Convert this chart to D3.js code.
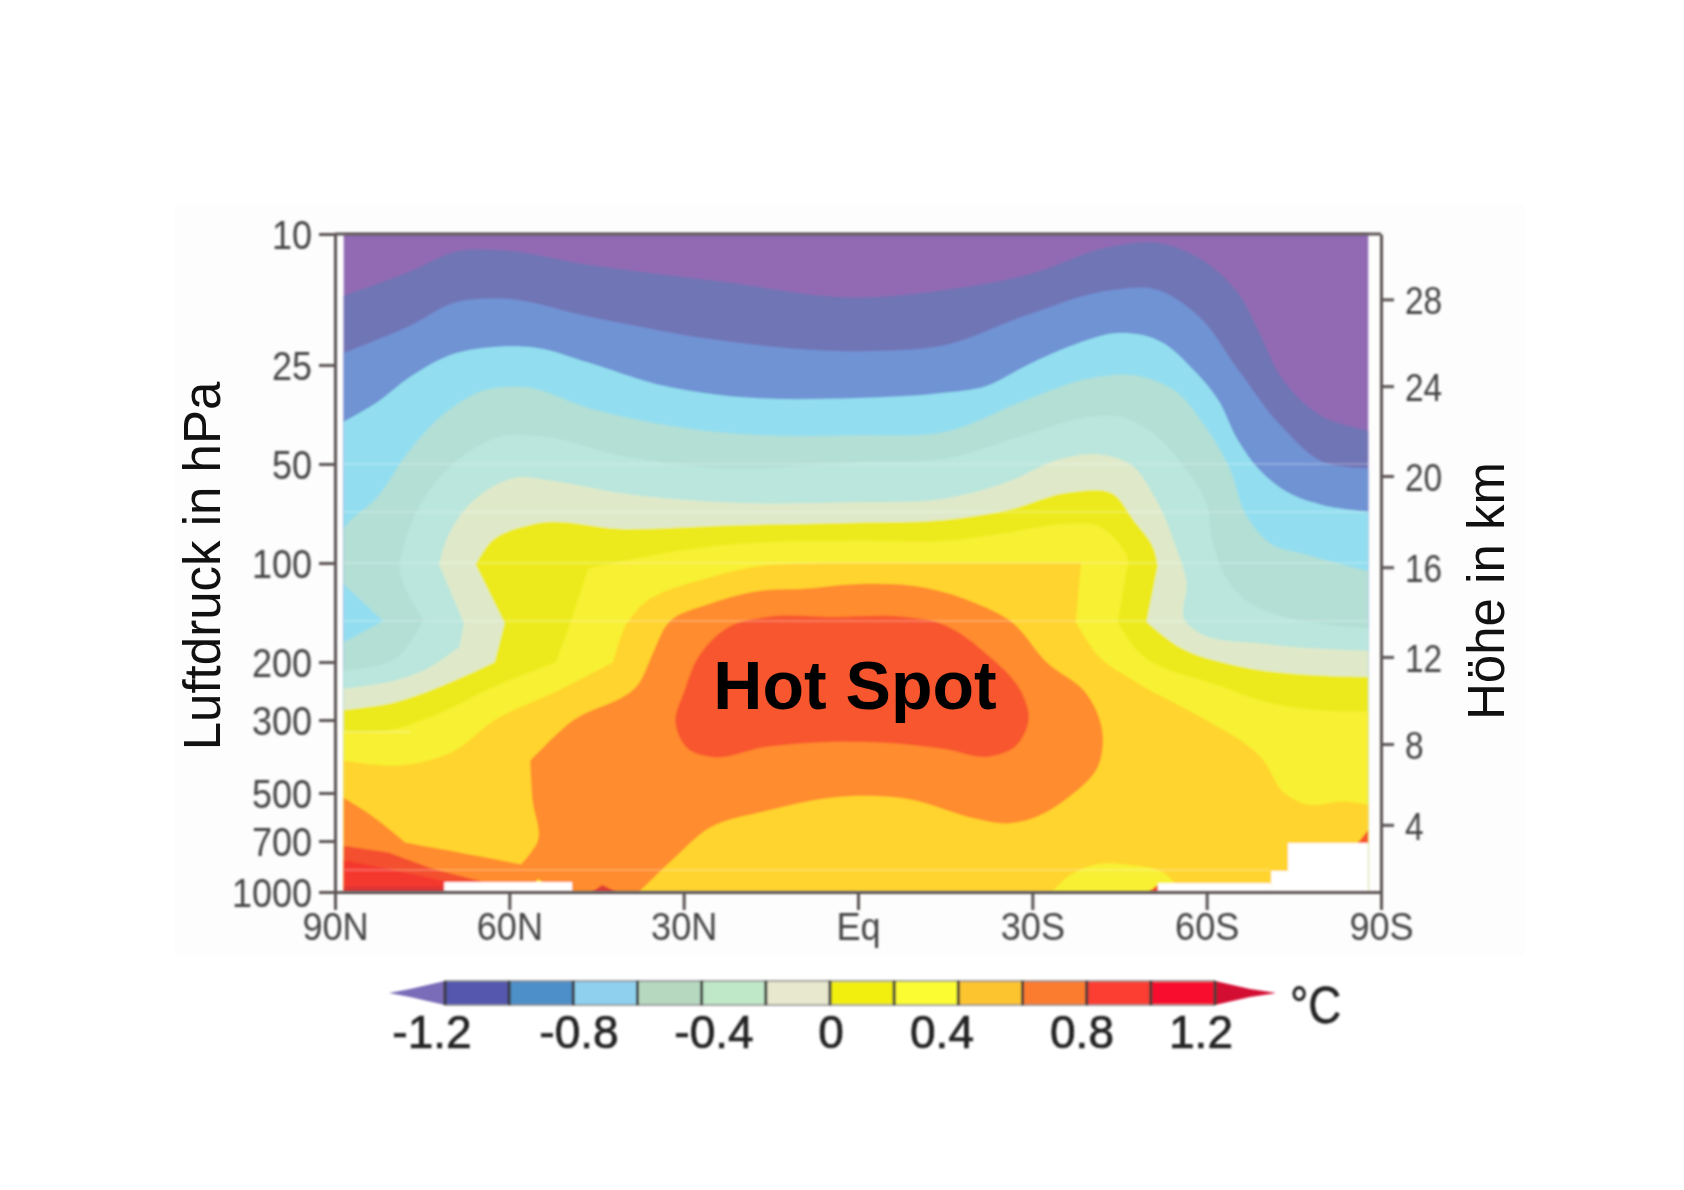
<!DOCTYPE html>
<html><head><meta charset="utf-8">
<script src="https://cdn.jsdelivr.net/npm/d3@7"></script>
<style>html,body{margin:0;background:#fff}svg{display:block}text{font-family:"Liberation Sans",Arial,sans-serif}</style>
</head><body><svg id="c" width="1684" height="1190"></svg>
<script>
// ---------- data: [latitude (+N / -S), pressure hPa] ----------
const pressureTicks=[10,25,50,100,200,300,500,700,1000];
const latTicks=[90,60,30,0,-30,-60,-90];
const latLabels=["90N","60N","30N","Eq","30S","60S","90S"];
const kmLabels=[28,24,20,16,12,8,4];
const kmPressures=[15.8,29,54.4,103,193,355,625];
const faintLines=[[50,88.5,-87.8],[70,88.5,-87.8],[100,88.5,-87.8],[150,88.5,-87.8],[326,88.5,77],[857,88.5,-71]];
const latEdges=[88.5,-87.8];

const contourPurple=[[88.5,15.4],[77.1,13],[69.1,11.3],[61.7,11.2],[46.4,12.4],[24.2,13.9],[-0.4,15.6],[-14.8,14.8],[-29.2,13.3],[-43.8,10.9],[-51,10.6],[-58.2,11.7],[-65.4,15.1],[-69.1,20],[-72.8,27.2],[-80,35.9],[-88,39.6]];
const contourNavy=[[88.5,23],[77.1,19],[69.1,16.1],[61.7,15.7],[46.4,17.8],[24.2,21],[-0.4,22.7],[-14.8,21.8],[-29.2,17.6],[-43.8,14.8],[-51,14.7],[-58.2,17.5],[-65.4,25.8],[-72.8,38.3],[-80,49.3],[-88,51.5]];
const contourBlue=[[88.5,37.2],[82.8,32.5],[77.1,27.2],[69.1,23],[61.7,22],[55.3,22.2],[46.4,24.6],[34.7,28.6],[24.2,30.8],[-0.4,31.5],[-14.8,30.4],[-22,29],[-29.2,25],[-36.6,21.9],[-45.1,20],[-51,20.8],[-58.2,26.4],[-61.9,31.8],[-65.4,42.4],[-69.1,52.2],[-75,62.4],[-80,66.7],[-88,69.8]];
const contourCyan=[[88.5,174],[81.7,150],[81.7,150],[88.5,116],[88.5,116],[88.5,79],[82.8,63.3],[77.1,45.3],[70.4,34.3],[63.9,29.7],[57.5,29.2],[46.4,33.8],[24.2,40],[-0.4,40.9],[-14.8,40],[-29.2,31.8],[-40.1,27.4],[-46.8,26.8],[-54.7,30.1],[-59.7,38.4],[-63.9,51.2],[-66.9,72],[-71.1,87.5],[-76.9,94],[-88,106]];
const contourTeal=[[88.5,212],[79.5,195],[74.7,149],[74.7,149],[78.9,101],[78.4,91.4],[74.1,61.5],[67.8,47],[61.2,41.1],[54.9,41.1],[40.3,47.4],[24.2,51.5],[-0.4,49.3],[-14.8,48.2],[-29.2,40.6],[-39.4,36.1],[-45.1,35.9],[-51,40.6],[-56.2,51.2],[-59.7,64.2],[-61.2,88.3],[-63.2,110],[-66.7,129.5],[-73.4,146],[-80.6,154],[-88,158]];
const contourLightTeal=[[88.5,240.8],[79.5,227],[74.7,212],[68.6,180],[68.6,180],[67.8,152],[67.8,152],[72.1,101],[72.1,101],[71,86.5],[66.2,64.7],[58.8,55],[52.5,56.3],[40.3,61.5],[24.2,65.3],[-0.4,65.3],[-14.8,63.8],[-25.5,56.9],[-35.3,48],[-41.2,46.7],[-46.8,50],[-51,62.8],[-54.7,89.3],[-56.5,113],[-56.5,152],[-58,160],[-69.7,176],[-88,185]];
const contourPale=[[88.5,280],[80.8,268],[62.5,200],[62.5,200],[60.8,152],[60.8,152],[65.8,101],[65.8,101],[63,85.6],[55.6,76],[40.3,78.8],[24.2,77],[-0.4,75.3],[-14.8,74],[-25.5,69.3],[-36.6,60.9],[-43.8,61.5],[-47.3,73.6],[-51,91.4],[-51.6,102],[-51.6,102],[-49.7,151],[-49.7,151],[-55.3,180],[-66.2,207],[-88,222]];
const contourLime=[[88.5,325],[80.8,323],[73.4,293],[62.5,237],[51.9,200],[51.9,200],[49.5,152],[49.5,152],[46.4,104],[46.4,104],[40.8,99],[27.5,90],[18.3,87],[-0.4,85.6],[-14.8,85.6],[-25.5,81],[-36.6,76],[-41.2,77],[-45.3,89],[-46.4,97],[-46,110],[-44.7,151],[-44.7,151],[-48,184],[-62.5,237],[-69.7,263],[-82,282],[-88,282]];
const contourYellow=[[88.5,399],[78.4,412],[69.9,376],[62.5,300],[51.9,246],[42.1,200],[42.1,200],[39.7,152],[37.7,137],[25.5,110.6],[15.7,101.5],[10,100.5],[-11.6,100],[-38.4,100],[-38.4,100],[-37.5,151],[-37.5,151],[-41.4,192],[-48,231],[-58.8,293],[-69.7,396],[-73.4,501],[-76.9,540],[-84,531],[-88,544]];
const contourGold=[[88.5,517],[83.9,582],[77.8,709],[77.8,709],[68.6,759],[58,824],[58,824],[55.1,698],[56,528],[56.4,399],[56.4,399],[49.5,305],[37.7,232],[35.3,188],[32.5,151],[25.5,133],[15.7,120.8],[10,120],[0.6,116],[-11.6,119],[-20.5,133],[-26,149],[-32.7,202],[-39.2,248],[-42.1,330],[-41.4,412],[-36.2,516],[-29,605],[-25.5,619],[-20.5,600],[-8.1,520],[4.3,516],[10,536],[15.7,566],[25.5,638],[31.6,788],[37.7,1000]];
const hotSpot=[[31.4,307],[29.2,368],[25.5,388],[15.7,362],[10,354],[-4.4,352],[-15.3,369],[-22.5,388],[-27,362],[-29.4,293],[-28.5,255],[-21.8,187],[-13.9,152],[-8.1,146],[4.3,146],[15.7,146],[22.4,157],[27.4,192],[29.8,243]];
const arcticRedA=[[88.5,724],[80.8,759],[73.4,849],[62.5,953],[55.3,1000]];
const arcticRedB=[[88.5,800],[77.4,877],[66.3,965],[63.6,1000]];
const arcticRedC=[[88.5,960],[71.9,960],[68.2,1000]];
const southYellowPatch=[[-33.4,1000],[-36.2,896],[-40.7,826],[-46.4,826],[-53,883],[-54.9,953],[-56.5,1000]];
const northYellowBump=[[55.8,952],[55.1,915],[53.4,952]];
const redSpike=[[45.8,1000],[44,953],[41.6,1000]];
const southRedTickA=[[-50,1000],[-51.6,952],[-51.6,1000]];
const southRedTickB=[[-86,710],[-87.8,648],[-87.8,710]];
const noDataCells=[[71.2,49.2,933],[-51.6,-71.1,940],[-71.1,-74,863],[-74,-87.8,710]];

const bandColors=["#926ab3","#7074b5","#6f93d4","#92def0","#b3dfd5","#bae6dd","#dfe9c9","#ecea1e","#f8f032","#ffd42e","#ff8c2d","#f8562f"];
const legendColors=["#5457ae","#4e8fc8","#8fd0ee","#b6d8bf","#bfe8c8","#e8e8cf","#f2ee10","#fcfc32","#fcc42e","#fb7c2e","#fb3d30","#f9072f"];
const legendTicks=[-1.2,-0.8,-0.4,0,0.4,0.8,1.2];
const legendTickLabels=["-1.2","-0.8","-0.4","0","0.4","0.8","1.2"];

// ---------- scales ----------
const svg=d3.select("#c");
const x=d3.scaleLinear().domain([90,-90]).range([335,1381]);
const y=d3.scaleLog().domain([10,1000]).range([234,892]);
const smooth=d3.line().x(d=>x(d[0])).y(d=>y(d[1])).curve(d3.curveCatmullRom.alpha(1));
const straight=d3.line().x(d=>x(d[0])).y(d=>y(d[1]));

svg.append("rect").attr("x",175).attr("y",205).attr("width",1350).attr("height",750).attr("fill","#fdfdfd");

const defs=svg.append("defs");
defs.append("clipPath").attr("id","plotClip").append("rect")
 .attr("x",x(latEdges[0])).attr("y",y(10)).attr("width",x(latEdges[1])-x(latEdges[0])).attr("height",y(1000)-y(10));
const soft=defs.append("filter").attr("id","soft").attr("x","-5%").attr("y","-5%").attr("width","110%").attr("height","110%");
soft.append("feGaussianBlur").attr("stdDeviation",0.8);
const softText=defs.append("filter").attr("id","softText").attr("x","-5%").attr("y","-5%").attr("width","110%").attr("height","110%");
softText.append("feGaussianBlur").attr("stdDeviation",0.8);

// ---------- filled contours, painted warmest last ----------
const wrap=svg.append("g").attr("filter","url(#soft)");
const plot=wrap.append("g").attr("clip-path","url(#plotClip)");
const bottomClose=(lat)=>`L${x(lat)},${y(1000)+6}`;
plot.append("rect").attr("x",x(90)).attr("y",y(10)).attr("width",x(-90)-x(90)).attr("height",y(1000)-y(10)).attr("fill",bandColors[0]);
[contourPurple,contourNavy,contourBlue,contourCyan,contourTeal,contourLightTeal,contourPale,contourLime,contourYellow].forEach((c,i)=>{
  plot.append("path").attr("fill",bandColors[i+1]).attr("d",smooth(c)+bottomClose(-90)+bottomClose(90)+`L${x(90)},${y(c[0][1])}Z`);
});
plot.append("path").attr("fill",bandColors[10]).attr("d",smooth(contourGold)+bottomClose(90)+`L${x(90)},${y(contourGold[0][1])}Z`);
plot.append("path").attr("fill",bandColors[11]).attr("d",d3.line().x(d=>x(d[0])).y(d=>y(d[1])).curve(d3.curveCatmullRomClosed.alpha(1))(hotSpot));
plot.append("path").attr("fill","#f4502e").attr("d",straight(arcticRedA)+bottomClose(90)+"Z");
plot.append("path").attr("fill","#f5372f").attr("d",straight(arcticRedB)+bottomClose(90)+"Z");
plot.append("path").attr("fill","#e03535").attr("d",straight(arcticRedC)+bottomClose(90)+"Z");
plot.append("path").attr("fill",bandColors[8]).attr("d",smooth(southYellowPatch)+"Z");
plot.append("path").attr("fill",bandColors[8]).attr("d",straight(northYellowBump)+"Z");
plot.append("path").attr("fill","#e03a35").attr("d",straight(redSpike)+"Z");
plot.selectAll("rect.nodata").data(noDataCells).join("rect").attr("class","nodata")
 .attr("x",d=>x(d[0])).attr("width",d=>x(d[1])-x(d[0]))
 .attr("y",d=>y(d[2])).attr("height",d=>y(1000)-y(d[2])+2).attr("fill","#fff");
plot.append("path").attr("fill","#f0492f").attr("d",straight(southRedTickA)+"Z");
plot.append("path").attr("fill","#f8562f").attr("d",straight(southRedTickB)+"Z");
plot.selectAll("line.faint").data(faintLines).join("line").attr("class","faint")
 .attr("x1",d=>x(d[1])).attr("x2",d=>x(d[2])).attr("y1",d=>y(d[0])).attr("y2",d=>y(d[0]))
 .attr("stroke","#fff").attr("stroke-opacity",0.28).attr("stroke-width",1.6);

// ---------- axes ----------
const axisColor="#5b5353";
const axes=svg.append("g").attr("filter","url(#softText)");
function narrow(sel,k){
  sel.each(function(){const n=this.getComputedTextLength();this.setAttribute("textLength",n*k);this.setAttribute("lengthAdjust","spacingAndGlyphs");});
}
function styleAxis(g,size,k,dy){
  g.select(".domain").attr("stroke",axisColor).attr("stroke-width",3);
  g.selectAll(".tick line").attr("stroke",axisColor).attr("stroke-width",3);
  const t=g.selectAll(".tick text").attr("fill","#454545").attr("font-size",size).attr("font-family",null);
  t.call(narrow,k);
  if(dy) t.attr("y",dy);
}
const left=d3.axisLeft(y).tickValues(pressureTicks).tickFormat(d3.format("d")).tickSize(16).tickPadding(7).tickSizeOuter(0);
const gL=axes.append("g").attr("transform",`translate(${x(90)},0)`).call(left);styleAxis(gL,40,0.9,2);
const bottom=d3.axisBottom(x).tickValues(latTicks).tickFormat((d,i)=>latLabels[i]).tickSize(18).tickPadding(3).tickSizeOuter(0);
const gB=axes.append("g").attr("transform",`translate(0,${y(1000)})`).call(bottom);styleAxis(gB,38,0.95);
const right=d3.axisRight(y).tickValues(kmPressures).tickFormat((d,i)=>kmLabels[i]).tickSize(13).tickPadding(11).tickSizeOuter(0);
const gR=axes.append("g").attr("transform",`translate(${x(-90)},0)`).call(right);styleAxis(gR,38,0.88,2);
axes.append("line").attr("x1",x(90)).attr("x2",x(-90)).attr("y1",y(10)).attr("y2",y(10)).attr("stroke",axisColor).attr("stroke-width",3);

// ---------- titles ----------
svg.append("text").attr("transform","translate(220,566) rotate(-90)").attr("text-anchor","middle").attr("font-size",51).attr("fill","#111").text("Luftdruck in hPa");
svg.append("text").attr("transform","translate(1504,591) rotate(-90)").attr("text-anchor","middle").attr("font-size",51).attr("fill","#111").text("Höhe in km");
svg.append("text").attr("x",x(0)-3).attr("y",709).attr("text-anchor","middle").attr("font-size",68).attr("font-weight","bold").attr("fill","#000").text("Hot Spot");

// ---------- colour legend ----------
const lg=svg.append("g").attr("filter","url(#softText)");
const cell=d3.scaleBand().domain(d3.range(legendColors.length)).range([445,1215]);
const legTop=981,legH=24;
lg.append("path").attr("fill","#7a6cb8").attr("d",`M${cell.range()[0]},${legTop}L${cell.range()[0]-35},${legTop+legH/2-4}L${cell.range()[0]-56},${legTop+legH/2}L${cell.range()[0]-35},${legTop+legH/2+4}L${cell.range()[0]},${legTop+legH}Z`);
lg.append("path").attr("fill","#d40a33").attr("d",`M${cell.range()[1]},${legTop}L${cell.range()[1]+35},${legTop+legH/2-4}L${cell.range()[1]+61},${legTop+legH/2}L${cell.range()[1]+35},${legTop+legH/2+4}L${cell.range()[1]},${legTop+legH}Z`);
lg.selectAll("rect.cell").data(legendColors).join("rect").attr("class","cell")
 .attr("x",(d,i)=>cell(i)).attr("y",legTop).attr("width",cell.bandwidth()).attr("height",legH)
 .attr("fill",d=>d).attr("stroke","#888").attr("stroke-width",1.5);
lg.selectAll("line.sep").data(d3.range(legendColors.length+1)).join("line").attr("class","sep")
 .attr("x1",d=>cell.range()[0]+d*cell.step()).attr("x2",d=>cell.range()[0]+d*cell.step())
 .attr("y1",legTop).attr("y2",legTop+legH).attr("stroke","#3a3a3a").attr("stroke-width",3);
const legX=d3.scaleLinear().domain(legendTicks).range([432,579,714,831,942,1082,1201]);
lg.selectAll("text.tl").data(legendTicks).join("text").attr("class","tl")
 .attr("x",d=>legX(d)).attr("y",1048).attr("text-anchor","middle").attr("font-size",46).attr("fill","#222")
 .attr("stroke","#222").attr("stroke-width",0.7)
 .text((d,i)=>legendTickLabels[i]);
lg.append("text").attr("x",1290).attr("y",1023).attr("font-size",52).attr("fill","#222").attr("stroke","#222").attr("stroke-width",0.5).text("°C").call(narrow,0.88);
</script></body></html>
